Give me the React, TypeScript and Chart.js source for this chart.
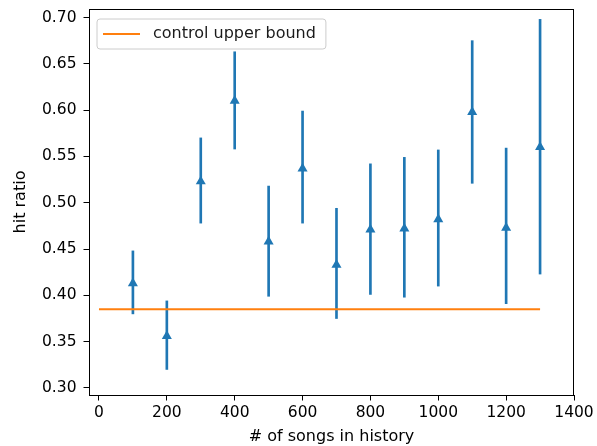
import React, { useEffect, useRef } from "react";
import { Chart, registerables } from "chart.js";

Chart.register(...registerables);

const historySizes = [100, 200, 300, 400, 500, 600, 700, 800, 900, 1000, 1100, 1200, 1300];
const hitRatio = [0.413, 0.356, 0.523, 0.61, 0.458, 0.537, 0.433, 0.471, 0.472, 0.482, 0.598, 0.473, 0.56];
const errLow = [0.38, 0.32, 0.478, 0.558, 0.399, 0.478, 0.375, 0.401, 0.398, 0.41, 0.521, 0.391, 0.423];
const errHigh = [0.448, 0.394, 0.57, 0.663, 0.518, 0.599, 0.494, 0.542, 0.549, 0.557, 0.675, 0.559, 0.698];
const controlUpperBound = 0.385;
const controlRange = [0, 1300];
const xTicks = [0, 200, 400, 600, 800, 1000, 1200, 1400];
const yTicks = [0.3, 0.35, 0.4, 0.45, 0.5, 0.55, 0.6, 0.65, 0.7];
const legendLabel = "control upper bound";
const xTitle = "# of songs in history";
const yTitle = "hit ratio";

const BLUE = "#1f77b4";
const ORANGE = "#ff7f0e";
const FONT = "'DejaVu Sans', sans-serif";

const framePlugin = {
  id: "frame",
  afterDraw(chart: any) {
    const { ctx, chartArea } = chart;
    ctx.save();
    ctx.strokeStyle = "#000";
    ctx.lineWidth = 1;
    ctx.strokeRect(
      Math.round(chartArea.left) + 0.5,
      Math.round(chartArea.top) + 0.5,
      Math.round(chartArea.right - chartArea.left) - 1,
      Math.round(chartArea.bottom - chartArea.top)
    );
    // legend
    const bx = chartArea.left + 8;
    const by = chartArea.top + 10;
    ctx.font = `16px ${FONT}`;
    const tw = ctx.measureText(legendLabel).width;
    const textX = bx + 56;
    const bw = textX - bx + tw + 10;
    const bh = 30;
    ctx.beginPath();
    const r = 3;
    ctx.moveTo(bx + r, by);
    ctx.lineTo(bx + bw - r, by);
    ctx.quadraticCurveTo(bx + bw, by, bx + bw, by + r);
    ctx.lineTo(bx + bw, by + bh - r);
    ctx.quadraticCurveTo(bx + bw, by + bh, bx + bw - r, by + bh);
    ctx.lineTo(bx + r, by + bh);
    ctx.quadraticCurveTo(bx, by + bh, bx, by + bh - r);
    ctx.lineTo(bx, by + r);
    ctx.quadraticCurveTo(bx, by, bx + r, by);
    ctx.closePath();
    ctx.fillStyle = "rgba(255,255,255,0.8)";
    ctx.fill();
    ctx.strokeStyle = "#cccccc";
    ctx.lineWidth = 1;
    ctx.stroke();
    const ly = by + bh / 2;
    ctx.beginPath();
    ctx.moveTo(bx + 6, ly);
    ctx.lineTo(bx + 43, ly);
    ctx.strokeStyle = ORANGE;
    ctx.lineWidth = 2;
    ctx.stroke();
    ctx.fillStyle = "#1a1a1a";
    ctx.textBaseline = "middle";
    ctx.textAlign = "left";
    ctx.fillText(legendLabel, textX, ly);
    ctx.restore();
  },
};

const zeroPad = (s: any) => {
  s.paddingTop = 0;
  s.paddingBottom = 0;
  s.paddingLeft = 0;
  s.paddingRight = 0;
};

export default function App() {
  const canvasRef = useRef<HTMLCanvasElement | null>(null);

  useEffect(() => {
    if (!canvasRef.current) return;
    const tickFont = { family: FONT, size: 15.5 };
    const chart = new Chart(canvasRef.current, {
      type: "scatter",
      data: {
        datasets: [
          {
            type: "line",
            label: legendLabel,
            data: controlRange.map((x) => ({ x, y: controlUpperBound })),
            borderColor: ORANGE,
            borderWidth: 2,
            pointRadius: 0,
            fill: false,
            order: 0,
          } as any,
          {
            type: "scatter",
            label: "hit ratio",
            data: historySizes.map((x, i) => ({ x, y: hitRatio[i] })),
            pointStyle: "triangle",
            pointRadius: 5.8,
            backgroundColor: BLUE,
            borderColor: BLUE,
            borderWidth: 0,
            order: 1,
          } as any,
          {
            type: "bar",
            label: "error",
            data: historySizes.map((x, i) => ({ x, y: [errLow[i], errHigh[i]] })),
            backgroundColor: BLUE,
            borderWidth: 0,
            barThickness: 2,
            order: 2,
          } as any,
        ],
      },
      options: {
        responsive: false,
        animation: false,
        devicePixelRatio: 1,
        layout: { padding: { top: 9, right: 23, left: 0, bottom: 0 } },
        plugins: { legend: { display: false }, tooltip: { enabled: false } },
        scales: {
          x: {
            type: "linear",
            offset: false,
            min: -29.4,
            max: 1400,
            afterBuildTicks: (s: any) => {
              s.ticks = xTicks.map((v) => ({ value: v }));
            },
            afterFit: (s: any) => {
              s.height = 51;
              zeroPad(s);
            },
            ticks: {
              font: tickFont,
              color: "#000",
              padding: 3,
              maxRotation: 0,
              autoSkip: false,
              callback: (v: any) => String(v),
            },
            grid: {
              display: true,
              offset: false,
              drawOnChartArea: false,
              drawTicks: true,
              tickLength: 5.5,
              tickColor: "#000",
              tickWidth: 1,
            },
            border: { display: false },
            title: {
              display: true,
              text: xTitle,
              font: { family: FONT, size: 16 },
              color: "#000",
              padding: { top: 0, bottom: 0 },
            },
          },
          y: {
            type: "linear",
            min: 0.2924,
            max: 0.7092,
            afterBuildTicks: (s: any) => {
              s.ticks = yTicks.map((v) => ({ value: v }));
            },
            afterFit: (s: any) => {
              s.width = 89;
              zeroPad(s);
            },
            ticks: {
              font: tickFont,
              color: "#000",
              padding: 7,
              autoSkip: false,
              callback: (v: any) => Number(v).toFixed(2),
            },
            grid: {
              display: true,
              drawOnChartArea: false,
              drawTicks: true,
              tickLength: 5.5,
              tickColor: "#000",
              tickWidth: 1,
            },
            border: { display: false },
            title: {
              display: true,
              text: yTitle,
              font: { family: FONT, size: 16 },
              color: "#000",
              padding: { top: 11, bottom: 0 },
            },
          },
        },
      },
      plugins: [framePlugin],
    } as any);
    return () => chart.destroy();
  }, []);

  return (
    <div style={{ position: "fixed", left: 0, top: 0, width: 597, height: 446, background: "#fff" }}>
      <canvas ref={canvasRef} width={597} height={446} style={{ width: 597, height: 446 }} />
    </div>
  );
}
